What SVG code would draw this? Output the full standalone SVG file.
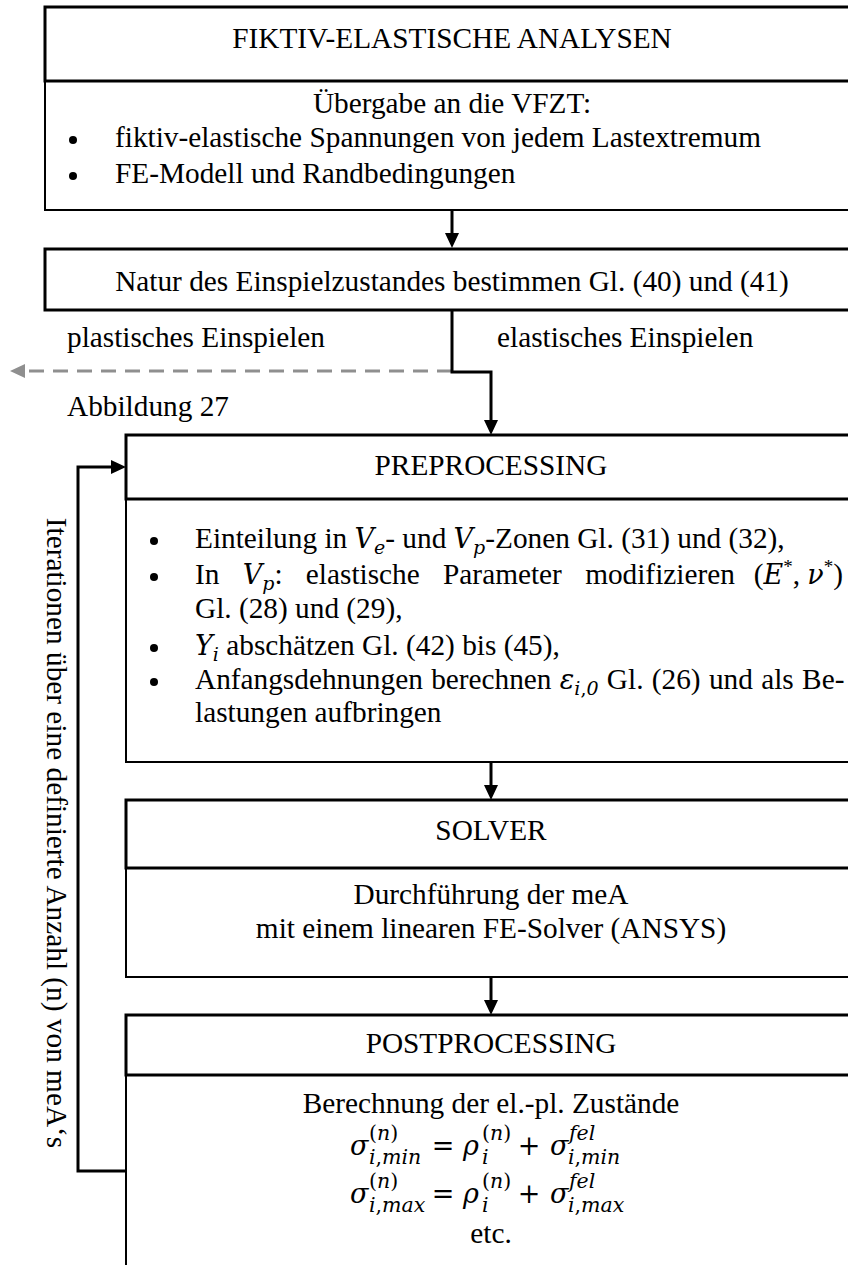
<svg xmlns="http://www.w3.org/2000/svg" width="848" height="1265" viewBox="0 0 848 1265">
<defs>
<style>
.hd{fill:#fff;stroke:#000;stroke-width:3}
.bd{fill:#fff;stroke:#000;stroke-width:2}
.t{font-family:"Liberation Serif","Times New Roman",serif;font-size:29.3px;fill:#000}
.c{text-anchor:middle}
.e{text-anchor:end}
.m{font-family:"DejaVu Serif",serif;font-style:italic;font-size:27px}
.s{font-size:19px}
.q{font-size:20.5px}
.n{font-style:normal}
.ln{fill:none;stroke:#000;stroke-width:3}
.dash{fill:none;stroke:#8f8f8f;stroke-width:3;stroke-dasharray:15 9}
</style>
<marker id="ah" viewBox="0 0 15 14" refX="10" refY="7" markerWidth="15" markerHeight="14" markerUnits="userSpaceOnUse" orient="auto"><path d="M0,0L15,7L0,14z" fill="#000"/></marker>
<marker id="ahg" viewBox="0 0 15 14" refX="10" refY="7" markerWidth="15" markerHeight="14" markerUnits="userSpaceOnUse" orient="auto"><path d="M0,0L15,7L0,14z" fill="#8f8f8f"/></marker>
</defs>
<rect x="0" y="0" width="848" height="1265" fill="#fff"/>

<g id="node-fiktiv">
<rect class="bd" x="45" y="81" width="830" height="129"/>
<rect class="hd" x="45" y="7" width="830" height="74"/>
<text class="t c" x="452" y="48">FIKTIV-ELASTISCHE ANALYSEN</text>
<text class="t c" x="452" y="113">Übergabe an die VFZT:</text>
<circle cx="73" cy="140" r="4"/>
<text class="t" x="115" y="147">fiktiv-elastische Spannungen von jedem Lastextremum</text>
<circle cx="73" cy="176" r="4"/>
<text class="t" x="115" y="183">FE-Modell und Randbedingungen</text>
</g>

<g id="node-natur">
<rect class="hd" x="45" y="249" width="830" height="61"/>
<text class="t c" x="452" y="291">Natur des Einspielzustandes bestimmen Gl. (40) und (41)</text>
</g>

<g id="node-preprocessing">
<rect class="bd" x="126" y="499" width="750" height="263"/>
<rect class="hd" x="126" y="435" width="750" height="64"/>
<text class="t c" x="491" y="475">PREPROCESSING</text>
<circle cx="154" cy="541" r="4"/>
<text class="t" x="195" y="548">Einteilung in <tspan class="m">V</tspan><tspan class="m s" dy="6">e</tspan><tspan dy="-6">- und </tspan><tspan class="m">V</tspan><tspan class="m s" dy="6">p</tspan><tspan dy="-6">-Zonen Gl. (31) und (32),</tspan></text>
<circle cx="154" cy="577" r="4"/>
<text class="t" x="195" y="584" word-spacing="16">In <tspan class="m">V</tspan><tspan class="m s" dy="6">p</tspan><tspan dy="-6">: elastische Parameter modifizieren</tspan></text>
<text class="t e" x="843" y="584">(<tspan class="m">E</tspan><tspan class="s" dy="-11">*</tspan><tspan dy="11">, </tspan><tspan class="m">ν</tspan><tspan class="s" dy="-11">*</tspan><tspan dy="11">)</tspan></text>
<text class="t" x="195" y="618">Gl. (28) und (29),</text>
<circle cx="154" cy="648" r="4"/>
<text class="t" x="195" y="655"><tspan class="m">Y</tspan><tspan class="m s" dy="6">i</tspan><tspan dy="-6"> abschätzen Gl. (42) bis (45),</tspan></text>
<circle cx="154" cy="682" r="4"/>
<text class="t" x="195" y="689" word-spacing="1">Anfangsdehnungen berechnen <tspan class="m">ε</tspan><tspan class="m s" dy="6">i<tspan class="n">,</tspan>0</tspan><tspan dy="-6"> Gl. (26) und als Be-</tspan></text>
<text class="t" x="195" y="722">lastungen aufbringen</text>
</g>

<g id="node-solver">
<rect class="bd" x="126" y="868" width="750" height="109"/>
<rect class="hd" x="126" y="800" width="750" height="68"/>
<text class="t c" x="491" y="840">SOLVER</text>
<text class="t c" x="491" y="904">Durchführung der meA</text>
<text class="t c" x="491" y="938">mit einem linearen FE-Solver (ANSYS)</text>
</g>

<g id="node-postprocessing">
<rect class="bd" x="126" y="1075" width="750" height="250"/>
<rect class="hd" x="126" y="1015" width="750" height="60"/>
<text class="t c" x="491" y="1053">POSTPROCESSING</text>
<text class="t c" x="491" y="1113">Berechnung der el.-pl. Zustände</text>
<text class="t m" x="350" y="1155">σ</text>
<text class="t m q" x="369" y="1140"><tspan class="n">(</tspan>n<tspan class="n">)</tspan></text>
<text class="t m q" x="369" y="1164">i<tspan class="n">,</tspan>min</text>
<text class="t m n c" x="443" y="1155">=</text>
<text class="t m" x="463" y="1155">ρ</text>
<text class="t m q" x="482" y="1140"><tspan class="n">(</tspan>n<tspan class="n">)</tspan></text>
<text class="t m q" x="482" y="1164">i</text>
<text class="t m n c" x="529" y="1155">+</text>
<text class="t m" x="550" y="1155">σ</text>
<text class="t m q" x="569" y="1140">fel</text>
<text class="t m q" x="568" y="1164">i<tspan class="n">,</tspan>min</text>
<text class="t m" x="350" y="1203">σ</text>
<text class="t m q" x="369" y="1188"><tspan class="n">(</tspan>n<tspan class="n">)</tspan></text>
<text class="t m q" x="369" y="1212">i<tspan class="n">,</tspan>max</text>
<text class="t m n c" x="443" y="1203">=</text>
<text class="t m" x="463" y="1203">ρ</text>
<text class="t m q" x="482" y="1188"><tspan class="n">(</tspan>n<tspan class="n">)</tspan></text>
<text class="t m q" x="482" y="1212">i</text>
<text class="t m n c" x="529" y="1203">+</text>
<text class="t m" x="550" y="1203">σ</text>
<text class="t m q" x="569" y="1188">fel</text>
<text class="t m q" x="568" y="1212">i<tspan class="n">,</tspan>max</text>
<text class="t c" x="491" y="1243">etc.</text>
</g>

<g id="connectors">
<path class="dash" d="M452,371H15" marker-end="url(#ahg)"/>
<path class="ln" d="M452,210V243" marker-end="url(#ah)"/>
<path class="ln" d="M452,310V372H491V430" marker-end="url(#ah)"/>
<path class="ln" d="M491,762V795" marker-end="url(#ah)"/>
<path class="ln" d="M491,977V1010" marker-end="url(#ah)"/>
<path class="ln" d="M126,1171H78V467H121" marker-end="url(#ah)"/>
<text class="t" x="67" y="347">plastisches Einspielen</text>
<text class="t" x="497" y="347">elastisches Einspielen</text>
<text class="t" x="67" y="416">Abbildung 27</text>
<text class="t c" transform="translate(47,833) rotate(90)">Iterationen über eine definierte Anzahl (n) von meA‘s</text>
</g>
</svg>
